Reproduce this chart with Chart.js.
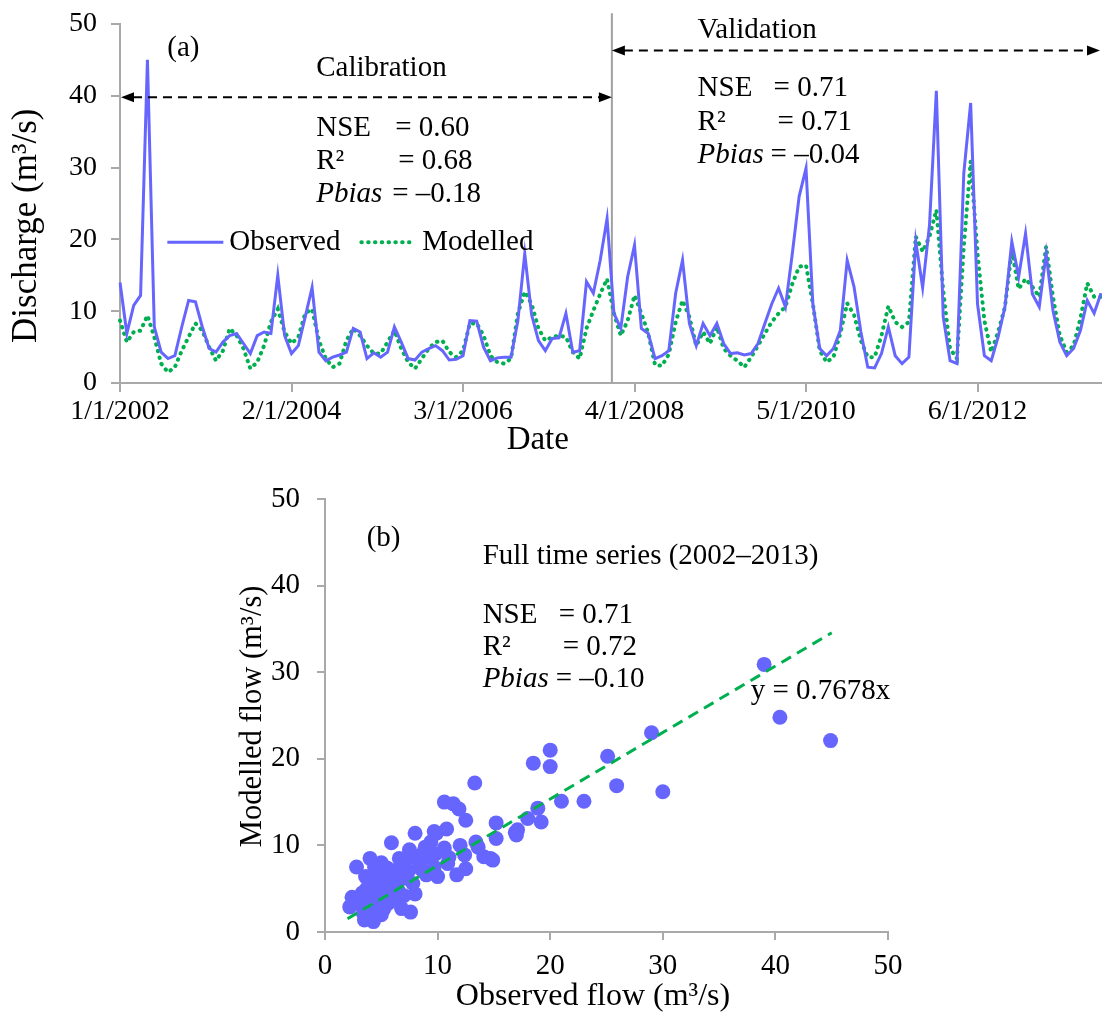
<!DOCTYPE html>
<html><head><meta charset="utf-8">
<script src="https://cdn.jsdelivr.net/npm/chart.js@4.4.1/dist/chart.umd.min.js"></script>
<style>
html,body{margin:0;padding:0;background:#fff;}
#wrap{position:relative;width:1102px;height:1014px;overflow:hidden;background:#fff;}
canvas{position:absolute;left:0;}
#cA{top:0;} #cB{top:460px;}
</style></head><body>
<div id="wrap"><canvas id="cA" width="1102" height="460"></canvas><canvas id="cB" width="1102" height="554"></canvas></div>
<script>
// ---------- Panel (a) data ----------
const dates = [
"1/1/2002","2/1/2002","3/1/2002","4/1/2002","5/1/2002","6/1/2002","7/1/2002","8/1/2002","9/1/2002","10/1/2002","11/1/2002","12/1/2002",
"1/1/2003","2/1/2003","3/1/2003","4/1/2003","5/1/2003","6/1/2003","7/1/2003","8/1/2003","9/1/2003","10/1/2003","11/1/2003","12/1/2003",
"1/1/2004","2/1/2004","3/1/2004","4/1/2004","5/1/2004","6/1/2004","7/1/2004","8/1/2004","9/1/2004","10/1/2004","11/1/2004","12/1/2004",
"1/1/2005","2/1/2005","3/1/2005","4/1/2005","5/1/2005","6/1/2005","7/1/2005","8/1/2005","9/1/2005","10/1/2005","11/1/2005","12/1/2005",
"1/1/2006","2/1/2006","3/1/2006","4/1/2006","5/1/2006","6/1/2006","7/1/2006","8/1/2006","9/1/2006","10/1/2006","11/1/2006","12/1/2006",
"1/1/2007","2/1/2007","3/1/2007","4/1/2007","5/1/2007","6/1/2007","7/1/2007","8/1/2007","9/1/2007","10/1/2007","11/1/2007","12/1/2007",
"1/1/2008","2/1/2008","3/1/2008","4/1/2008","5/1/2008","6/1/2008","7/1/2008","8/1/2008","9/1/2008","10/1/2008","11/1/2008","12/1/2008",
"1/1/2009","2/1/2009","3/1/2009","4/1/2009","5/1/2009","6/1/2009","7/1/2009","8/1/2009","9/1/2009","10/1/2009","11/1/2009","12/1/2009",
"1/1/2010","2/1/2010","3/1/2010","4/1/2010","5/1/2010","6/1/2010","7/1/2010","8/1/2010","9/1/2010","10/1/2010","11/1/2010","12/1/2010",
"1/1/2011","2/1/2011","3/1/2011","4/1/2011","5/1/2011","6/1/2011","7/1/2011","8/1/2011","9/1/2011","10/1/2011","11/1/2011","12/1/2011",
"1/1/2012","2/1/2012","3/1/2012","4/1/2012","5/1/2012","6/1/2012","7/1/2012","8/1/2012","9/1/2012","10/1/2012","11/1/2012","12/1/2012",
"1/1/2013","2/1/2013","3/1/2013","4/1/2013","5/1/2013","6/1/2013","7/1/2013","8/1/2013","9/1/2013","10/1/2013","11/1/2013","12/1/2013"
];
const dateTickLabels = ["1/1/2002","2/1/2004","3/1/2006","4/1/2008","5/1/2010","6/1/2012"];
const observed = [
14.0,6.9,10.8,12.2,45.0,7.8,4.3,3.4,3.8,7.8,11.5,11.3,
7.8,4.8,4.3,5.7,6.6,6.9,5.5,4.1,6.6,7.1,6.9,15.0,
6.6,4.1,5.2,9.2,13.3,4.3,3.1,3.6,3.9,4.3,7.6,7.1,
3.4,4.2,3.6,4.3,7.8,5.7,3.4,3.2,4.3,4.8,5.2,4.5,
3.2,3.3,3.8,8.7,8.6,5.0,3.1,3.5,3.6,3.6,8.7,18.0,
9.5,5.9,4.5,6.2,6.3,9.7,4.3,4.5,14.1,12.5,17.1,22.9,
9.7,7.6,14.8,19.2,7.6,6.9,3.4,3.8,4.5,12.5,17.1,8.3,
5.2,8.3,6.6,8.3,5.5,4.1,4.2,3.9,4.1,5.5,8.3,11.0,
13.2,10.6,18.0,26.0,29.9,11.0,4.8,3.8,4.8,7.3,17.1,13.4,
7.1,2.2,2.1,4.1,7.8,3.8,2.7,3.6,19.7,13.3,22.0,40.7,
9.2,3.1,2.7,29.2,39.0,11.0,3.8,3.1,6.4,10.6,19.7,14.8,
20.8,12.4,10.6,18.0,10.1,5.7,3.8,4.8,7.3,11.5,9.7,12.5
];
const modelled = [
8.7,5.7,7.1,7.3,9.4,6.4,2.7,1.5,2.2,4.5,6.4,8.3,
7.3,5.0,3.1,4.5,7.6,6.6,4.8,2.0,2.9,5.2,8.5,10.3,
7.1,5.5,6.4,9.7,10.3,5.9,3.4,2.2,2.7,5.9,7.6,6.6,
5.2,4.1,4.1,5.7,7.3,4.8,2.9,2.0,3.4,4.8,5.7,5.9,
4.3,3.6,4.5,8.3,8.3,6.6,3.8,2.9,2.7,3.4,9.7,12.7,
11.0,7.6,5.9,6.4,6.6,6.4,4.3,3.4,7.6,10.1,12.4,14.5,
9.7,6.6,8.7,12.2,9.7,6.9,2.5,2.4,4.0,8.5,11.5,9.2,
5.2,7.1,5.5,7.8,4.8,3.8,3.1,2.2,3.6,5.2,6.9,8.5,
9.7,10.6,13.8,16.2,16.4,11.0,4.5,2.9,3.6,6.9,11.1,9.5,
5.9,3.6,3.6,6.6,10.7,8.5,7.8,8.5,20.4,18.3,20.4,24.1,
12.9,4.8,3.4,19.0,30.9,18.1,8.7,4.3,7.1,10.6,18.5,13.1,
14.5,13.4,12.0,19.0,12.0,6.6,4.3,5.2,9.0,13.9,12.0,12.0
];
const seriesNames = ["Observed","Modelled"];
const calibrationEndIndex = 71.7;
const statLabels = ["NSE","R²","Pbias"];
const calibrationStats = ["0.60","0.68","–0.18"];
const validationStats = ["0.71","0.71","–0.04"];

// ---------- Panel (b) data ----------
const obsFlow = [39.0,40.4,44.9,29.0,25.1,25.9,30.0,20.0,18.5,20.0,13.3,21.0,23.0,18.9,18.0,19.2,15.2,17.1,17.0,15.2,
10.6,11.4,11.9,12.5,10.8,9.7,13.4,13.6,14.7,14.1,10.6,12.4,12.5,11.7,9.7,10.9,8.0,5.9,9.9,9.4,
8.9,7.5,4.0,2.8,6.6,7.1,8.1,6.4,7.4,10.0,4.7,3.6,4.1,5.0,6.4,7.8,6.5,8.0,2.4,3.3,
4.4,5.5,2.2,3.1,3.9,4.7,5.6,6.8,7.6,3.5,4.3,5.0,3.4,4.4,5.3,5.8,4.4,3.7,8.7,9.2,
8.4,8.6,14.9,4.1,3.0,6.0,7.0,6.0,5.5,4.6,9.0,7.2,9.8,11.0,2.8,6.2,5.2,3.8,7.0,5.0,12.0,16.9];
const modFlow = [30.9,24.8,22.1,23.0,20.3,16.9,16.2,21.0,19.5,19.1,17.2,15.1,15.1,14.3,13.1,12.7,12.6,11.8,11.2,10.8,
15.0,14.8,14.2,12.9,11.9,11.6,10.4,9.8,8.5,8.7,9.7,8.9,7.3,6.6,7.5,7.9,11.4,10.3,11.4,10.4,
9.8,9.5,8.5,7.5,8.5,7.9,8.7,7.2,7.0,6.4,6.8,6.4,5.6,5.2,6.0,5.6,4.8,4.4,4.0,4.5,
4.3,4.3,2.9,3.3,2.5,2.9,3.3,2.7,2.3,1.4,1.2,2.0,2.2,7.5,6.4,5.6,5.2,5.0,9.1,8.7,
7.7,7.2,8.3,1.8,3.8,5.0,6.2,6.8,7.4,3.8,6.6,8.3,9.0,8.6,3.4,3.7,2.6,3.2,4.2,8.0,10.0,11.5];
const trendSlope = 0.7678;
const trendRange = [2, 45];
const fullStats = ["0.71","0.72","–0.10"];

// ---------- styling ----------
const FONT = '"Liberation Serif","Times New Roman",serif';
const BLUE = '#6666ff', GREEN = '#00b050', AXIS = '#a9a9a9', INK = '#000';
const FS_TICK_A = 28, FS_NOTE_A = 29, FS_TICK_B = 29, FS_NOTE_B = 29;

function txt(ctx, s, x, y, size, opts) {
  opts = opts || {};
  ctx.font = (opts.italic ? 'italic ' : '') + size + 'px ' + FONT;
  ctx.fillStyle = INK;
  ctx.textAlign = opts.align || 'left';
  ctx.textBaseline = 'middle';
  ctx.fillText(s, x, y);
}
function statBlock(ctx, x, ys, values, eqOffsets, size) {
  for (let i = 0; i < statLabels.length; i++) {
    txt(ctx, statLabels[i], x, ys[i], size, {italic: statLabels[i] === 'Pbias'});
    txt(ctx, '= ' + values[i], x + eqOffsets[i], ys[i], size);
  }
}
function arrowLine(ctx, x1, x2, y) {
  ctx.save();
  ctx.strokeStyle = '#000'; ctx.lineWidth = 2; ctx.setLineDash([9, 6]);
  ctx.beginPath(); ctx.moveTo(x1 + 12, y); ctx.lineTo(x2 - 12, y); ctx.stroke();
  ctx.setLineDash([]); ctx.fillStyle = '#000';
  ctx.beginPath(); ctx.moveTo(x1, y); ctx.lineTo(x1 + 13, y - 5); ctx.lineTo(x1 + 13, y + 5); ctx.closePath(); ctx.fill();
  ctx.beginPath(); ctx.moveTo(x2, y); ctx.lineTo(x2 - 13, y - 5); ctx.lineTo(x2 - 13, y + 5); ctx.closePath(); ctx.fill();
  ctx.restore();
}

// ---------- Panel (a) ----------
const annotA = {
  id: 'annotA',
  beforeDatasetsDraw(chart) {
    const {ctx, chartArea, scales: {x, y}} = chart;
    ctx.save();
    ctx.strokeStyle = '#a0a0a0'; ctx.lineWidth = 2;
    const sx = x.getPixelForValue(calibrationEndIndex);
    ctx.beginPath(); ctx.moveTo(sx, y.getPixelForValue(51.5)); ctx.lineTo(sx, chartArea.bottom); ctx.stroke();
    ctx.restore();
  },
  afterDatasetsDraw(chart) {
    const {ctx, chartArea, scales: {x, y}} = chart;
    const X = v => x.getPixelForValue(v), Y = v => y.getPixelForValue(v);
    ctx.save();
    const sx = X(calibrationEndIndex);
    arrowLine(ctx, chartArea.left + 1, sx, Y(39.8));
    arrowLine(ctx, sx, chartArea.right - 1, Y(46.3));
    txt(ctx, '(a)', X(6.9), Y(46.6), FS_NOTE_A);
    txt(ctx, 'Calibration', X(28.6), Y(43.8), FS_NOTE_A);
    txt(ctx, 'Validation', X(84.2), Y(49.1), FS_NOTE_A);
    statBlock(ctx, X(28.6), [Y(35.5), Y(30.8), Y(26.3)], calibrationStats, [79, 82, 76], FS_NOTE_A);
    statBlock(ctx, X(84.2), [Y(41.0), Y(36.3), Y(31.7)], validationStats, [76, 80, 73], FS_NOTE_A);
    // legend
    const lx = X(6.9), ly = Y(19.6);
    ctx.strokeStyle = BLUE; ctx.lineWidth = 3;
    ctx.beginPath(); ctx.moveTo(lx, ly); ctx.lineTo(lx + 56, ly); ctx.stroke();
    txt(ctx, seriesNames[0], lx + 62, ly, FS_NOTE_A);
    ctx.strokeStyle = GREEN; ctx.lineWidth = 4; ctx.lineCap = 'round'; ctx.setLineDash([0.5, 6.3]);
    ctx.beginPath(); ctx.moveTo(lx + 194, ly); ctx.lineTo(lx + 248, ly); ctx.stroke();
    ctx.setLineDash([]); ctx.lineCap = 'butt';
    txt(ctx, seriesNames[1], lx + 255, ly, FS_NOTE_A);
    // axis titles
    txt(ctx, 'Date', X(60.9), chartArea.bottom + 57, 33, {align: 'center'});
    ctx.save();
    ctx.translate(27, Y(21.9)); ctx.rotate(-Math.PI / 2);
    txt(ctx, 'Discharge (m³/s)', 0, 0, 35, {align: 'center'});
    ctx.restore();
    ctx.restore();
  }
};

new Chart(document.getElementById('cA'), {
  type: 'line',
  data: {
    labels: dates,
    datasets: [
      {label: seriesNames[0], data: observed, borderColor: BLUE, borderWidth: 3, pointRadius: 0, tension: 0, order: 0},
      {label: seriesNames[1], data: modelled, borderColor: GREEN, borderWidth: 4, borderDash: [0.5, 6.3], borderCapStyle: 'round', pointRadius: 0, tension: 0, order: 1}
    ]
  },
  options: {
    responsive: false, animation: false, events: [],
    layout: {padding: {top: 24, right: 1, left: 0, bottom: 0}},
    plugins: {legend: {display: false}, tooltip: {enabled: false}},
    scales: {
      x: {
        type: 'category', offset: false,
        grid: {drawOnChartArea: false, drawTicks: true, tickLength: 9, color: AXIS, lineWidth: 2},
        border: {color: AXIS, width: 2},
        ticks: {autoSkip: false, maxRotation: 0, minRotation: 0, padding: 3, color: INK, font: {family: FONT, size: FS_TICK_A},
          callback(v, i) { const l = dates[i]; return dateTickLabels.includes(l) ? l : null; }},
        afterFit(s) { s.height = 77; }
      },
      y: {
        min: 0, max: 50,
        grid: {drawOnChartArea: false, drawTicks: true, tickLength: 9, color: AXIS, lineWidth: 2},
        border: {color: AXIS, width: 2},
        ticks: {stepSize: 10, padding: 14, color: INK, font: {family: FONT, size: FS_TICK_A, lineHeight: 0.5}},
        afterFit(s) { s.width = 120; }
      }
    }
  },
  plugins: [annotA]
});

// ---------- Panel (b) ----------
const annotB = {
  id: 'annotB',
  afterDatasetsDraw(chart) {
    const {ctx, chartArea, scales: {x, y}} = chart;
    const X = v => x.getPixelForValue(v), Y = v => y.getPixelForValue(v);
    ctx.save();
    txt(ctx, '(b)', X(3.7), Y(45.5), FS_NOTE_B);
    txt(ctx, 'Full time series (2002–2013)', X(14.0), Y(43.4), FS_NOTE_B);
    statBlock(ctx, X(14.0), [Y(36.6), Y(32.9), Y(29.2)], fullStats, [76, 80, 73], FS_NOTE_B);
    txt(ctx, 'y = ' + trendSlope + 'x', X(37.8), Y(27.8), FS_NOTE_B);
    txt(ctx, 'Observed flow (m³/s)', X(23.8), chartArea.bottom + 65, 32, {align: 'center'});
    ctx.save();
    ctx.translate(253, Y(24.9)); ctx.rotate(-Math.PI / 2);
    txt(ctx, 'Modelled flow (m³/s)', 0, 0, 30.5, {align: 'center'});
    ctx.restore();
    ctx.restore();
  }
};

new Chart(document.getElementById('cB'), {
  type: 'scatter',
  data: {
    datasets: [
      {type: 'line', label: 'trend', data: trendRange.map(v => ({x: v, y: trendSlope * v})),
       borderColor: GREEN, borderWidth: 3, borderDash: [11, 7], pointRadius: 0, order: 0},
      {label: 'flow', data: obsFlow.map((v, i) => ({x: v, y: modFlow[i]})),
       backgroundColor: BLUE, borderWidth: 0, pointRadius: 7.5, order: 1}
    ]
  },
  options: {
    responsive: false, animation: false, events: [],
    layout: {padding: {top: 39, right: 214, left: 0, bottom: 0}},
    plugins: {legend: {display: false}, tooltip: {enabled: false}},
    scales: {
      x: {
        type: 'linear', min: 0, max: 50, position: 'bottom',
        grid: {drawOnChartArea: false, drawTicks: true, tickLength: 8, color: AXIS, lineWidth: 2},
        border: {color: AXIS, width: 2},
        ticks: {stepSize: 10, padding: 9, color: INK, font: {family: FONT, size: FS_TICK_B}, maxRotation: 0},
        afterFit(s) { s.height = 82; }
      },
      y: {
        type: 'linear', min: 0, max: 50,
        grid: {drawOnChartArea: false, drawTicks: true, tickLength: 8, color: AXIS, lineWidth: 2},
        border: {color: AXIS, width: 2},
        ticks: {stepSize: 10, padding: 17, color: INK, font: {family: FONT, size: FS_TICK_B, lineHeight: 0.5}},
        afterFit(s) { s.width = 325; }
      }
    }
  },
  plugins: [annotB]
});
</script>
</body></html>
